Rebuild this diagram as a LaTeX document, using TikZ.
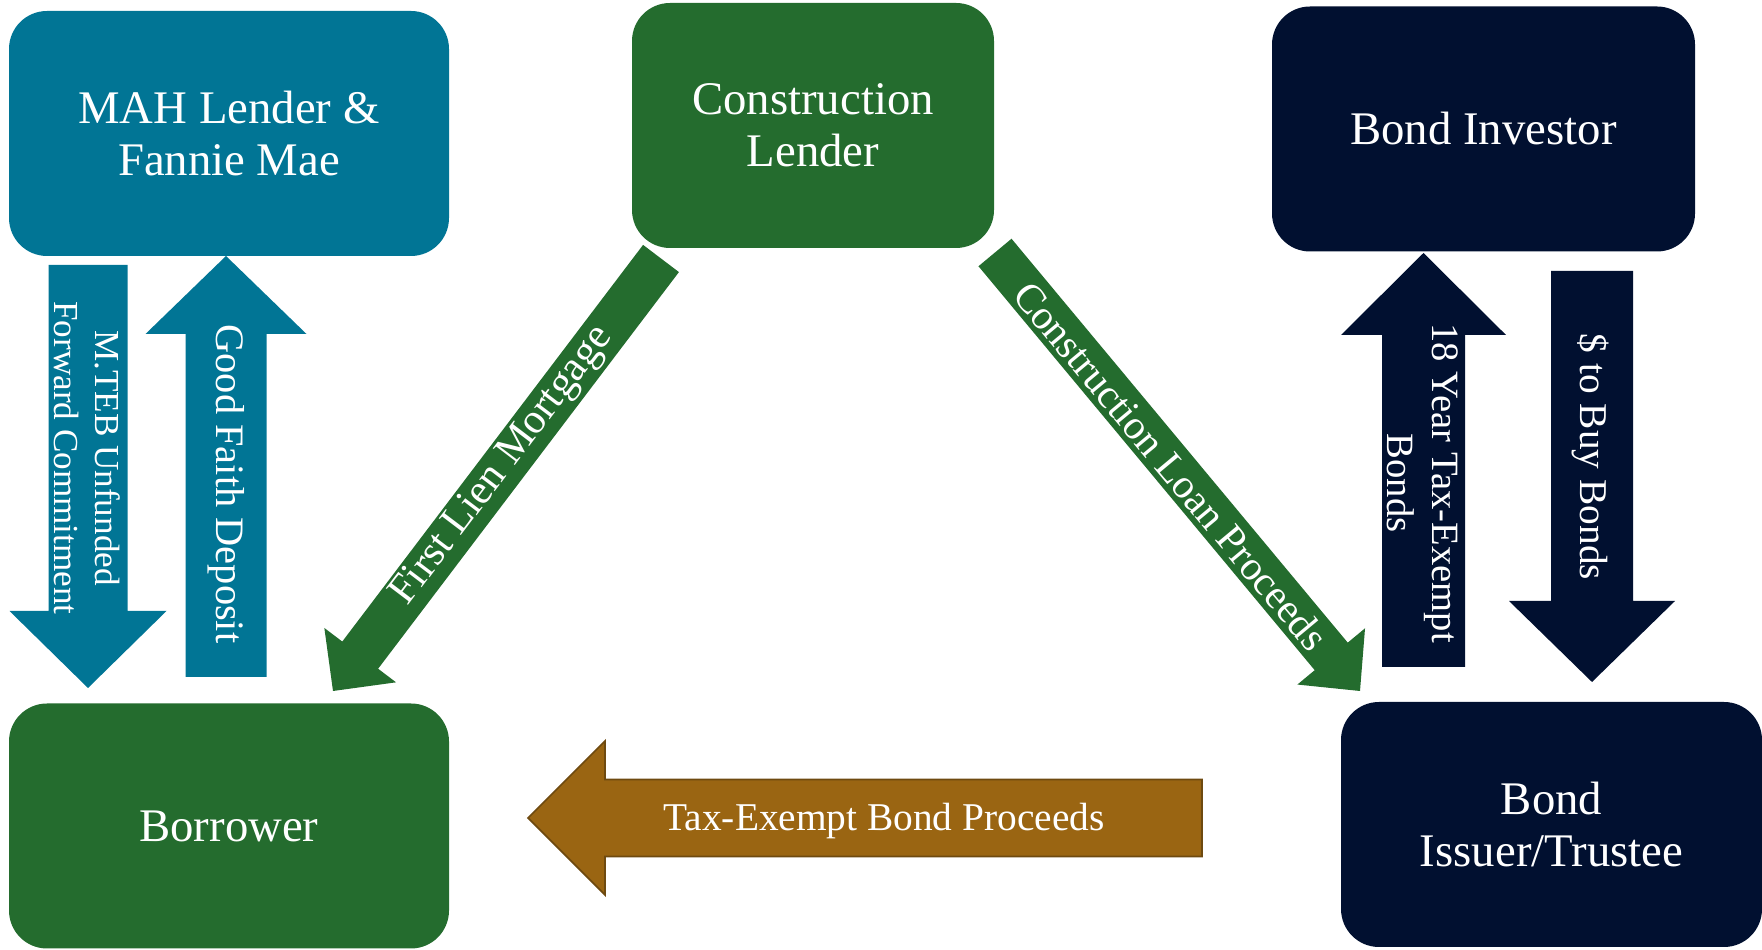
\documentclass[tikz,border=0pt]{standalone}
\usepackage{fontspec}
\setmainfont{Liberation Serif}
\usetikzlibrary{calc}

\definecolor{mahteal}{HTML}{017595}
\definecolor{lendgreen}{HTML}{246C2E}
\definecolor{bondnavy}{HTML}{011030}
\definecolor{procbrown}{HTML}{9A6512}
\definecolor{procedge}{HTML}{6E4A10}

% block arrow: style, tail, tip, half shaft, half head, head length
\newcommand{\blockarrow}[6]{%
  \coordinate (hb) at ($(#3)!#6!(#2)$);
  \path[#1] ($(#2)!#4!90:(#3)$) -- ($(hb)!#4!90:(#3)$) -- ($(hb)!#5!90:(#3)$) -- (#3)
    -- ($(hb)!#5!-90:(#3)$) -- ($(hb)!#4!-90:(#3)$) -- ($(#2)!#4!-90:(#3)$) -- cycle;
}

\begin{document}
\begin{tikzpicture}[x=0.1mm, y=-0.1mm]
  \tikzstyle{party}=[rounded corners=3.8mm, minimum height=24.5mm, inner sep=0pt, text=white, align=center, font=\fontsize{13.3}{14.7}\selectfont]
  \tikzstyle{flow}=[text=white, align=center, inner sep=0pt]

  \useasboundingbox (0,0) rectangle (1762,950);

  \node[party, fill=mahteal,   minimum width=44mm]   (mah)      at (229,133.5)  {MAH Lender \&\\Fannie Mae};
  \node[party, fill=lendgreen, minimum width=36.2mm] (conlend)  at (813,125.5)  {Construction\\Lender};
  \node[party, fill=bondnavy,  minimum width=42.3mm] (investor) at (1483.5,129) {Bond Investor};
  \node[party, fill=lendgreen, minimum width=44mm]   (borrower) at (229,826)    {Borrower};
  \node[party, fill=bondnavy,  minimum width=42.1mm] (issuer)   at (1551.5,824.5) {Bond\\Issuer/Trustee};

  \coordinate (mtebtail)  at (88,265);     \coordinate (mtebtip)  at (88,688);
  \coordinate (faithtail) at (226,677);    \coordinate (faithtip) at (226,256);
  \coordinate (lientail)  at (661,258.5);  \coordinate (lientip)  at (333,691);
  \coordinate (loantail)  at (995,252.5);  \coordinate (loantip)  at (1360,691);
  \coordinate (bondtail)  at (1423.5,667); \coordinate (bondtip)  at (1423.5,253);
  \coordinate (buytail)   at (1592,271);   \coordinate (buytip)   at (1592,682);
  \coordinate (proctail)  at (1202,818);   \coordinate (proctip)  at (528,818);

  \blockarrow{fill=mahteal}{mtebtail}{mtebtip}{3.95mm}{7.85mm}{7.7mm}
  \blockarrow{fill=mahteal}{faithtail}{faithtip}{4.05mm}{8.05mm}{7.8mm}
  \blockarrow{fill=lendgreen}{lientail}{lientip}{2.25mm}{4.5mm}{4.5mm}
  \blockarrow{fill=lendgreen}{loantail}{loantip}{2.15mm}{4.4mm}{4.5mm}
  \blockarrow{fill=bondnavy}{bondtail}{bondtip}{4.15mm}{8.25mm}{8.2mm}
  \blockarrow{fill=bondnavy}{buytail}{buytip}{4.1mm}{8.3mm}{8.1mm}
  \blockarrow{fill=procbrown, draw=procedge, line width=0.5pt}{proctail}{proctip}{3.85mm}{7.7mm}{7.7mm}

  \node[flow, rotate=-90, font=\fontsize{10}{11.5}\selectfont] (mtebtxt)  at (87,458)    {M.TEB Unfunded\\Forward Commitment};
  \node[flow, rotate=-90, font=\fontsize{11.5}{13}\selectfont] (faithtxt) at (226,484)   {Good Faith Deposit};
  \node[flow, rotate=52.8, font=\fontsize{12}{13}\selectfont]  (lientxt)  at (503,466)   {First Lien Mortgage};
  \node[flow, rotate=-50.2, font=\fontsize{11.7}{13}\selectfont] (loantxt) at (1171,466) {Construction Loan Proceeds};
  \node[flow, rotate=-90, font=\fontsize{11}{12.8}\selectfont] (bondtxt)  at (1423,483)  {18 Year Tax-Exempt\\Bonds};
  \node[flow, rotate=-90, font=\fontsize{11.2}{13}\selectfont] (buytxt)   at (1590,457)  {\$ to Buy Bonds};
  \node[flow, font=\fontsize{11.2}{13}\selectfont]             (proctxt)  at (884,821)   {Tax-Exempt Bond Proceeds};
\end{tikzpicture}
\end{document}
